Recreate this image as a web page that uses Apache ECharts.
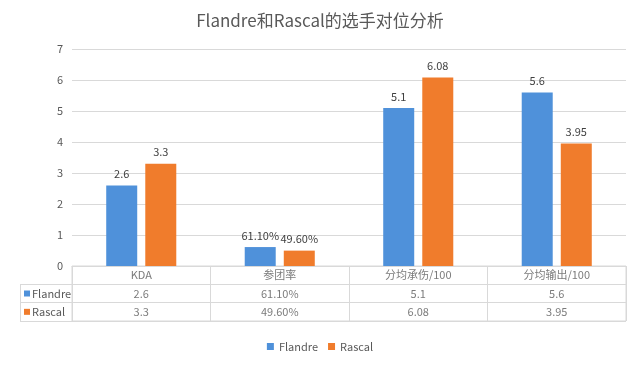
<!DOCTYPE html>
<html>
<head>
<meta charset="utf-8">
<script src="https://cdn.jsdelivr.net/npm/echarts@6/dist/echarts.min.js"></script>
<style>html,body{margin:0;padding:0;background:#fff}#c{width:640px;height:365px}</style>
</head>
<body>
<div id="c"></div>
<script>
var categories = ['KDA', '参团率', '分均承伤/100', '分均输出/100'];
var seriesNames = ['Flandre', 'Rascal'];
var flandreValues = [2.6, 0.611, 5.1, 5.6];
var rascalValues = [3.3, 0.496, 6.08, 3.95];
var flandreLabels = ['2.6', '61.10%', '5.1', '5.6'];
var rascalLabels = ['3.3', '49.60%', '6.08', '3.95'];
var yTicks = [0, 1, 2, 3, 4, 5, 6, 7];

var colors = ['#4F91DA', '#F07C2C'];
var font = '"Noto Sans CJK SC", "Noto Sans", sans-serif';
var textColor = '#595959';
var lineColor = '#D9D9D9';

var tableRows = ['', seriesNames[0], seriesNames[1]];
var tableData = [];
categories.forEach(function (c, i) {
  tableData.push({ value: [c, 0], text: c });
  tableData.push({ value: [c, 1], text: flandreLabels[i] });
  tableData.push({ value: [c, 2], text: rascalLabels[i] });
});

function barSeries(idx, values, labels) {
  return {
    name: seriesNames[idx],
    type: 'bar',
    xAxisIndex: 0, yAxisIndex: 0,
    data: values,
    barWidth: 31,
    barGap: '26%',
    itemStyle: { color: colors[idx] },
    label: {
      show: true, position: 'top', distance: 6,
      fontFamily: font, fontSize: 11, color: '#404040',
      formatter: function (p) { return labels[p.dataIndex]; }
    }
  };
}

var chart = echarts.init(document.getElementById('c'), null, { renderer: 'canvas' });
chart.setOption({
  backgroundColor: '#fff',
  animation: false,
  textStyle: { fontFamily: font },
  title: {
    text: 'Flandre和Rascal的选手对位分析',
    left: 'center', top: 7,
    textStyle: { fontFamily: font, fontSize: 17, fontWeight: 'normal', color: textColor }
  },
  legend: {
    data: seriesNames,
    bottom: 8, left: 'center',
    icon: 'rect', itemWidth: 7, itemHeight: 7, itemGap: 10,
    textStyle: { fontFamily: font, fontSize: 11, color: textColor }
  },
  grid: [
    { left: 72, right: 14, top: 49, height: 217 },
    { left: 72, right: 14, top: 266, height: 55, show: true, borderColor: lineColor, borderWidth: 1 }
  ],
  xAxis: [
    {
      gridIndex: 0, type: 'category', data: categories,
      axisLine: { lineStyle: { color: lineColor } },
      axisTick: { show: false }, axisLabel: { show: false }
    },
    {
      gridIndex: 1, type: 'category', data: categories,
      axisLine: { show: false }, axisTick: { show: false }, axisLabel: { show: false },
      splitLine: { show: true, lineStyle: { color: lineColor } }
    }
  ],
  yAxis: [
    {
      gridIndex: 0, type: 'value', min: yTicks[0], max: yTicks[yTicks.length - 1], interval: 1,
      axisLine: { show: false }, axisTick: { show: false },
      axisLabel: { fontFamily: font, fontSize: 11, color: textColor, margin: 9 },
      splitLine: { lineStyle: { color: lineColor } }
    },
    {
      gridIndex: 1, type: 'category', data: tableRows, inverse: true,
      axisLine: { show: false },
      axisTick: {
        show: true, length: 52, lineStyle: { color: lineColor },
        interval: function (index) { return index !== 0; }
      },
      splitLine: { show: true, lineStyle: { color: lineColor } },
      axisLabel: {
        align: 'left', margin: 48,
        formatter: function (v, i) {
          if (!v) return '';
          return '{s' + (i - 1) + '|}{t|' + v + '}';
        },
        rich: {
          s0: { width: 6, height: 6, backgroundColor: colors[0] },
          s1: { width: 6, height: 6, backgroundColor: colors[1] },
          t: { fontFamily: font, fontSize: 11, color: textColor, padding: [0, 0, 0, 2] }
        }
      }
    }
  ],
  graphic: [
    { type: 'line', shape: { x1: 20.5, y1: 284, x2: 20.5, y2: 321 }, style: { stroke: lineColor, lineWidth: 1 } }
  ],
  series: [
    barSeries(0, flandreValues, flandreLabels),
    barSeries(1, rascalValues, rascalLabels),
    {
      type: 'scatter',
      xAxisIndex: 1, yAxisIndex: 1,
      symbolSize: 0,
      silent: true,
      data: tableData,
      label: {
        show: true, position: 'inside',
        fontFamily: font, fontSize: 11, color: textColor,
        formatter: function (p) { return p.data.text; }
      }
    }
  ]
});
</script>
</body>
</html>
